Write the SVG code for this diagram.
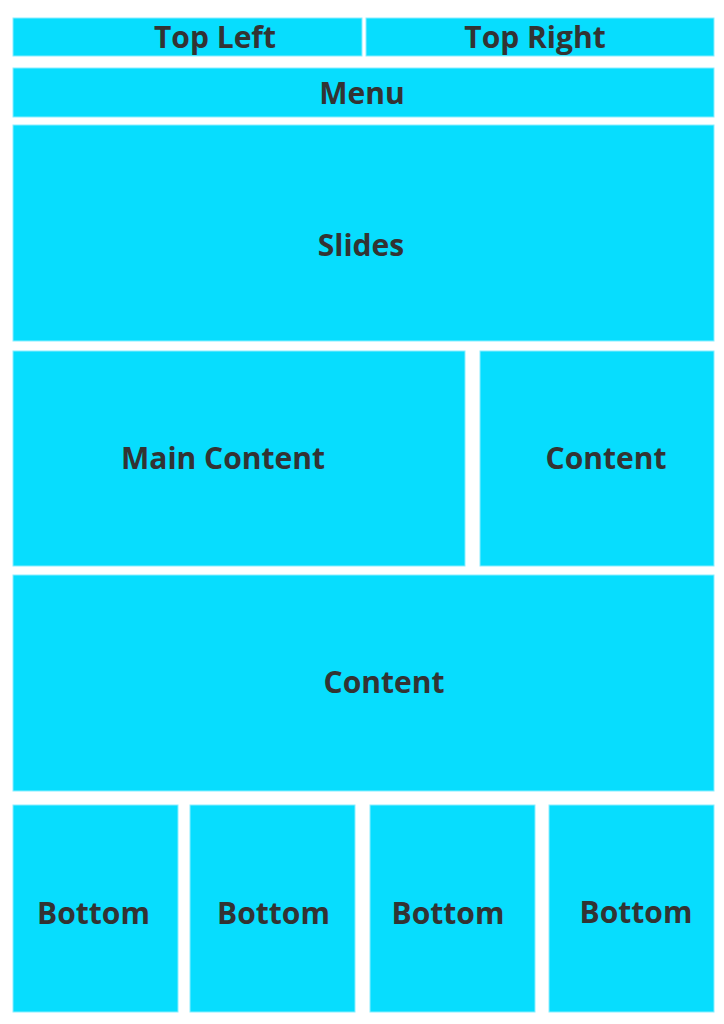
<svg xmlns="http://www.w3.org/2000/svg" width="724" height="1024" viewBox="0 0 724 1024">
<style>
.box{fill:#07DDFE;stroke:#8AEEFF;stroke-width:1}
.lbl{font-family:"Open Sans","Liberation Sans",sans-serif;font-weight:bold;font-size:30px;fill:#333333;text-anchor:middle}
</style>
<rect width="724" height="1024" fill="#FFFFFF"/>
<g id="top-left"><rect class="box" x="13" y="18" width="349" height="38"/><text class="lbl" x="215" y="48">Top Left</text></g>
<g id="top-right"><rect class="box" x="366" y="18" width="348" height="38"/><text class="lbl" x="535" y="48">Top Right</text></g>
<g id="menu"><rect class="box" x="13" y="68" width="701" height="49"/><text class="lbl" x="362" y="104">Menu</text></g>
<g id="slides"><rect class="box" x="13" y="125" width="701" height="216"/><text class="lbl" x="361" y="256">Slides</text></g>
<g id="main-content"><rect class="box" x="13" y="351" width="452" height="215"/><text class="lbl" x="223" y="469">Main Content</text></g>
<g id="content-right"><rect class="box" x="480" y="351" width="234" height="215"/><text class="lbl" x="606" y="469">Content</text></g>
<g id="content-wide"><rect class="box" x="13" y="575" width="701" height="216"/><text class="lbl" x="384" y="693">Content</text></g>
<g id="bottom-1"><rect class="box" x="13" y="805" width="165" height="207"/><text class="lbl" x="93.5" y="924">Bottom</text></g>
<g id="bottom-2"><rect class="box" x="190" y="805" width="165" height="207"/><text class="lbl" x="273.5" y="924">Bottom</text></g>
<g id="bottom-3"><rect class="box" x="370" y="805" width="165" height="207"/><text class="lbl" x="448" y="924">Bottom</text></g>
<g id="bottom-4"><rect class="box" x="549" y="805" width="165" height="207"/><text class="lbl" x="636" y="923">Bottom</text></g>
<g id="connectors"></g>
</svg>
